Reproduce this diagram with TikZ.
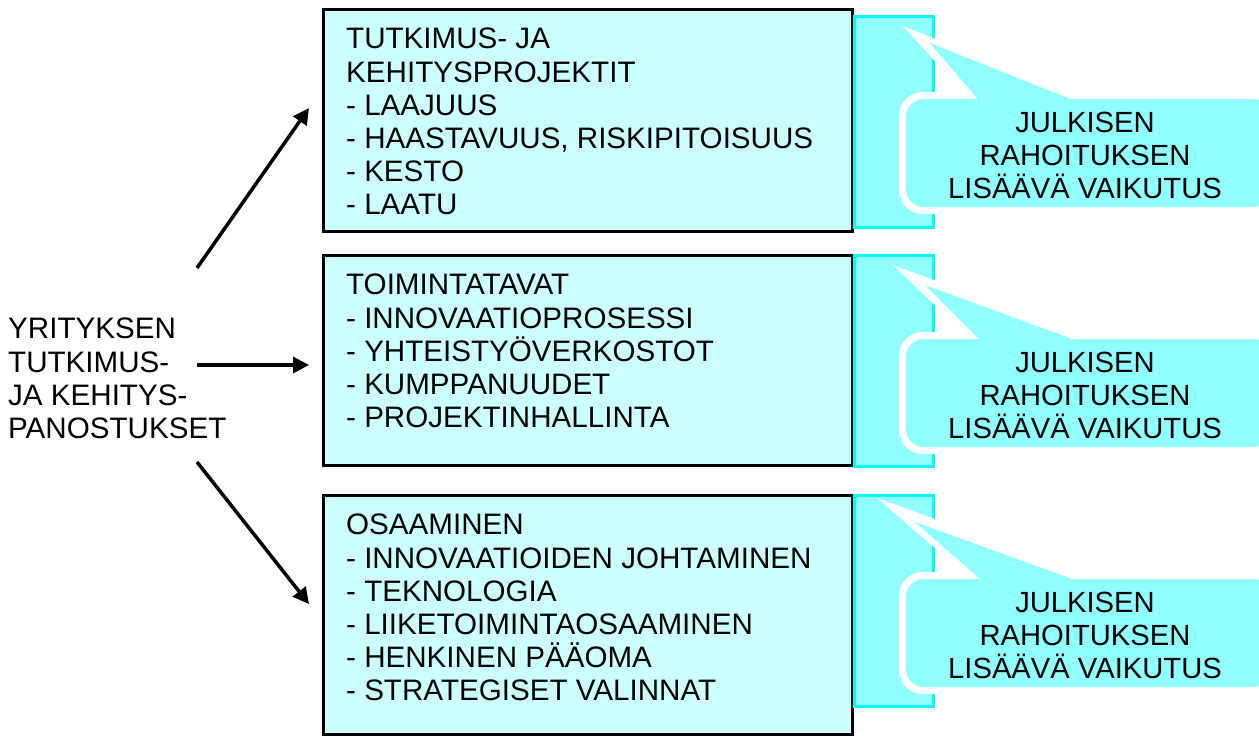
\documentclass[tikz,border=0pt]{standalone}
\usepackage{fontspec}
\setmainfont{Liberation Sans}
\usetikzlibrary{arrows.meta}
\definecolor{boxfill}{RGB}{204,255,255}
\definecolor{callfill}{RGB}{143,255,255}
\definecolor{cyanline}{RGB}{0,255,255}
\begin{document}
\begin{tikzpicture}[x=1bp,y=-1bp,
  font=\fontsize{29.7}{33.3}\selectfont,
  mainbox/.style={draw=black, line width=3bp, fill=boxfill, rectangle, inner sep=0pt, outer sep=0pt, anchor=north west, minimum width=529bp},
  txt/.style={anchor=north west, inner sep=0pt, align=left},
  calltxt/.style={anchor=north, inner sep=0pt, align=center, font=\fontsize{29.3}{33.3}\selectfont},
  sidebar/.style={draw=cyanline, line width=3bp, fill=callfill},
  arr/.style={line width=3.5bp, -{Triangle[length=16bp,width=16bp]}}
]
\useasboundingbox (0,0) rectangle (1259,736);

% main boxes
\node[mainbox, minimum height=221.5bp] (b1) at (323,9.5) {};
\node[mainbox, minimum height=210bp] (b2) at (323,255) {};
\node[mainbox, minimum height=239bp] (b3) at (323,495) {};

% side bars
\draw[sidebar] (854,17) rectangle (933,227);
\draw[sidebar] (854,255) rectangle (933,466);
\draw[sidebar] (854,495) rectangle (933,706);

% callout 1
\fill[white, rounded corners=24bp] (899,92) rectangle (1278,214);
\fill[white] (903,26) -- (1074,94) -- (965,94) -- cycle;
\fill[callfill, rounded corners=18bp] (906,99) rectangle (1271,207);
\fill[callfill] (930,43) -- (1083,104) -- (982,104) -- cycle;

% callout 2
\begin{scope}[shift={(0,240)}]
\fill[white, rounded corners=24bp] (899,92) rectangle (1278,214);
\fill[white] (893,25) -- (1081,94) -- (965,94) -- cycle;
\fill[callfill, rounded corners=18bp] (906,99) rectangle (1271,207);
\fill[callfill] (925,45) -- (1086,104) -- (984,104) -- cycle;
\end{scope}

% callout 3
\begin{scope}[shift={(0,480)}]
\fill[white, rounded corners=24bp] (899,92) rectangle (1278,214);
\fill[white] (877,18) -- (1087,94) -- (965,94) -- cycle;
\fill[callfill, rounded corners=18bp] (906,99) rectangle (1271,207);
\fill[callfill] (915,42) -- (1086,104) -- (986,104) -- cycle;
\end{scope}

% texts
\node[txt] (t1) at (346,28) {TUTKIMUS- JA\\KEHITYSPROJEKTIT\\- LAAJUUS\\- HAASTAVUUS, RISKIPITOISUUS\\- KESTO\\- LAATU};
\node[txt] (t2) at (346,274) {TOIMINTATAVAT\\- INNOVAATIOPROSESSI\\- YHTEISTYÖVERKOSTOT\\- KUMPPANUUDET\\- PROJEKTINHALLINTA};
\node[txt] (t3) at (346,514) {OSAAMINEN\\- INNOVAATIOIDEN JOHTAMINEN\\- TEKNOLOGIA\\- LIIKETOIMINTAOSAAMINEN\\- HENKINEN PÄÄOMA\\- STRATEGISET VALINNAT};
\node[txt] (left) at (8,318) {YRITYKSEN\\TUTKIMUS-\\JA KEHITYS-\\PANOSTUKSET};

\node[calltxt] (c1) at (1085,112) {JULKISEN\\RAHOITUKSEN\\LISÄÄVÄ VAIKUTUS};
\node[calltxt] (c2) at (1085,352) {JULKISEN\\RAHOITUKSEN\\LISÄÄVÄ VAIKUTUS};
\node[calltxt] (c3) at (1085,592) {JULKISEN\\RAHOITUKSEN\\LISÄÄVÄ VAIKUTUS};

% arrows
\coordinate (s1) at (197,268);
\coordinate (e1) at (309,108);
\coordinate (s2) at (197,365);
\coordinate (e2) at (309,365);
\coordinate (s3) at (197,462);
\coordinate (e3) at (309,604);
\draw[arr] (s1) -- (e1);
\draw[arr] (s2) -- (e2);
\draw[arr] (s3) -- (e3);
\end{tikzpicture}
\end{document}
